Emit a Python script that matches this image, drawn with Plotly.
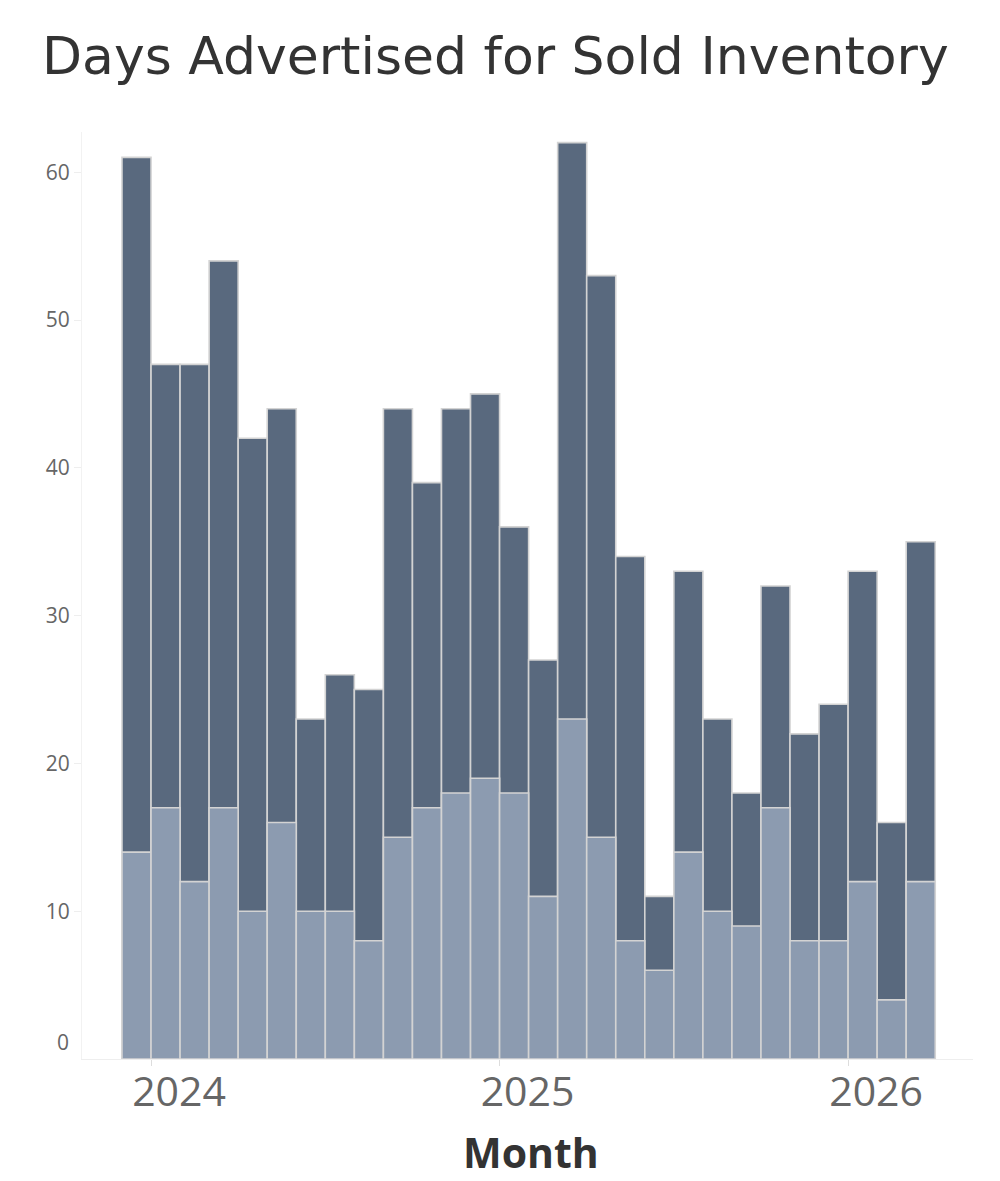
import plotly.graph_objects as go

months = ["2023-12", "2024-01", "2024-02", "2024-03", "2024-04", "2024-05", "2024-06",
          "2024-07", "2024-08", "2024-09", "2024-10", "2024-11", "2024-12",
          "2025-01", "2025-02", "2025-03", "2025-04", "2025-05", "2025-06",
          "2025-07", "2025-08", "2025-09", "2025-10", "2025-11", "2025-12",
          "2026-01", "2026-02", "2026-03"]
total_days = [61, 47, 47, 54, 42, 44, 23, 26, 25, 44, 39, 44, 45,
              36, 27, 62, 53, 34, 11, 33, 23, 18, 32, 22, 24,
              33, 16, 35]
median_days = [14, 17, 12, 17, 10, 16, 10, 10, 8, 15, 17, 18, 19,
               18, 11, 23, 15, 8, 6, 14, 10, 9, 17, 8, 8,
               12, 4, 12]
year_labels = ["2024", "2025", "2026"]
y_ticks = [0, 10, 20, 30, 40, 50, 60]
x_title = "Month"

# month index positions (bar spans the month, left edge at month start)
xpos = [i + 0.5 for i in range(len(months))]
year_starts = [months.index(y + "-01") for y in year_labels]

DARK = "#59697e"
LIGHT = "#8c9bb0"
EDGE = "#d3d3d3"

fig = go.Figure()
fig.add_trace(go.Bar(x=xpos, y=total_days, width=1, marker=dict(color=DARK, line=dict(color=EDGE, width=1.6)),
                     name="Total", customdata=months, hovertemplate="%{customdata}: %{y}<extra></extra>"))
fig.add_trace(go.Bar(x=xpos, y=median_days, width=1, marker=dict(color=LIGHT, line=dict(color=EDGE, width=1.6)),
                     name="Median", customdata=months, hovertemplate="%{customdata}: %{y}<extra></extra>"))

fig.update_layout(
    barmode="overlay",
    width=1000, height=1181,
    margin=dict(l=82, r=27, t=132, b=122),
    paper_bgcolor="white", plot_bgcolor="white",
    showlegend=False,
    title=dict(text="Days Advertised for Sold Inventory", x=0.042, xanchor="left", y=0.953, yanchor="middle",
               font=dict(family="DejaVu Sans", size=52, color="#333333")),
    font=dict(family="Open Sans", color="#666666"),
)
fig.update_xaxes(
    range=[-1.377, 29.30],
    tickmode="array", tickvals=year_starts, ticktext=year_labels,
    ticks="outside", ticklen=6, tickcolor="#dddddd", tickwidth=1,
    ticklabelshift=28, ticklabelstandoff=-9,
    tickfont=dict(family="Open Sans", size=41, color="#666666"),
    showgrid=False, zeroline=False,
    showline=True, linecolor="#eeeeee", linewidth=1,
)
fig.update_yaxes(
    range=[0, 62.72],
    tickmode="array", tickvals=y_ticks[1:], ticktext=[str(v) for v in y_ticks[1:]],
    ticks="outside", ticklen=7, tickcolor="#eeeeee", tickwidth=1,
    tickfont=dict(family="Open Sans", size=21, color="#666666"),
    showgrid=False, zeroline=False,
    showline=True, linecolor="#f2f2f2", linewidth=1,
)
fig.add_annotation(x=0, xref="paper", xanchor="right", xshift=-11, y=y_ticks[0], yref="y", yshift=17,
                   text=str(y_ticks[0]), showarrow=False,
                   font=dict(family="Open Sans", size=21, color="#666666"))
fig.add_annotation(x=0.5, xref="paper", xanchor="center", xshift=3, y=0, yref="paper", yanchor="middle",
                   yshift=-93, text="<b>" + x_title + "</b>", showarrow=False,
                   font=dict(family="Open Sans", size=41, color="#333333"))

fig.write_html("out.html")
